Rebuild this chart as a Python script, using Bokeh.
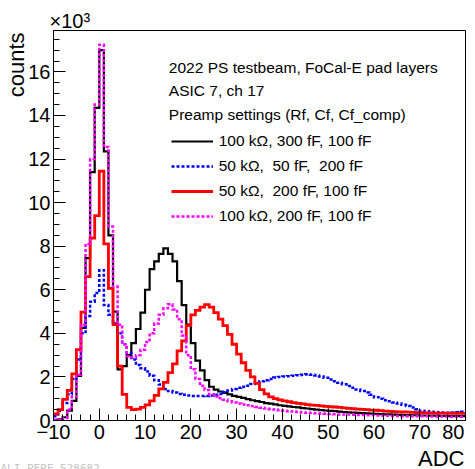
from bokeh.plotting import figure
from bokeh.models import (Range1d, SingleIntervalTicker, Legend, LegendItem, Label, Title,
                          CustomJSTickFormatter)
from bokeh.embed import file_html
from bokeh.resources import INLINE

# ---- data: counts per 1-ADC bin (in units of 10^3), bins [n, n+1) for n = -10..79
bin_low = list(range(-10, 80))

black_k = [0.03, 0.05, 0.15, 0.45, 0.9, 2.05, 4.25, 7.45, 11.4, 14.35,
           17.0, 12.35, 8.5, 5.0, 2.35, 2.5, 3.0, 3.55, 4.2, 4.95,
           6.0, 6.95, 7.3, 7.65, 7.9, 7.65, 7.3, 6.4, 5.3, 4.4,
           3.55, 2.75, 2.3, 1.85, 1.55, 1.42, 1.33, 1.27, 1.2, 1.13,
           1.08, 1.04, 0.98, 0.93, 0.89, 0.85, 0.8, 0.77, 0.74, 0.7,
           0.67, 0.65, 0.62, 0.6, 0.57, 0.55, 0.52, 0.5, 0.48, 0.46,
           0.44, 0.43, 0.41, 0.39, 0.37, 0.36, 0.35, 0.34, 0.33, 0.32,
           0.3, 0.29, 0.28, 0.28, 0.27, 0.26, 0.25, 0.25, 0.24, 0.24,
           0.23, 0.23, 0.22, 0.22, 0.21, 0.21, 0.2, 0.2, 0.2, 0.2]

blue_k = [0.2, 0.45, 0.8, 1.2, 1.9, 2.8, 4.0, 4.8, 5.45, 5.85,
          6.9, 5.3, 4.85, 4.45, 4.0, 3.5, 3.1, 2.8, 2.55, 2.4,
          2.25, 2.05, 1.85, 1.65, 1.45, 1.35, 1.28, 1.22, 1.18, 1.15,
          1.13, 1.12, 1.12, 1.13, 1.15, 1.18, 1.22, 1.3, 1.38, 1.45,
          1.5, 1.55, 1.6, 1.68, 1.75, 1.8, 1.85, 1.9, 1.97, 2.0,
          2.02, 2.03, 2.05, 2.08, 2.1, 2.12, 2.1, 2.07, 2.02, 1.96,
          1.88, 1.8, 1.73, 1.66, 1.58, 1.5, 1.42, 1.35, 1.28, 1.18,
          1.07, 1.0, 0.93, 0.88, 0.83, 0.78, 0.72, 0.67, 0.6, 0.52,
          0.45, 0.42, 0.4, 0.38, 0.37, 0.36, 0.36, 0.37, 0.38, 0.4]

red_k = [0.3, 0.5, 0.97, 1.38, 2.14, 3.25, 4.97, 6.6, 8.37, 9.4,
         11.45, 8.11, 6.06, 4.4, 2.5, 1.2, 0.6, 0.5, 0.52, 0.6,
         0.72, 0.9, 1.15, 1.45, 1.75, 2.2, 2.6, 3.2, 3.65, 4.35,
         4.85, 5.05, 5.2, 5.32, 5.2, 4.95, 4.65, 4.35, 3.95, 3.5,
         3.05, 2.65, 2.3, 2.0, 1.7, 1.42, 1.22, 1.08, 1.0, 0.95,
         0.9, 0.86, 0.82, 0.79, 0.76, 0.73, 0.71, 0.69, 0.67, 0.65,
         0.63, 0.62, 0.6, 0.58, 0.56, 0.54, 0.52, 0.51, 0.5, 0.48,
         0.47, 0.45, 0.43, 0.42, 0.41, 0.4, 0.39, 0.38, 0.37, 0.36,
         0.36, 0.35, 0.35, 0.34, 0.34, 0.34, 0.33, 0.33, 0.33, 0.33]

magenta_k = [0.02, 0.04, 0.12, 0.5, 1.1, 2.1, 4.4, 8.1, 12.0, 14.5,
             17.25, 12.55, 8.9, 6.15, 4.4, 3.5, 2.95, 2.9, 3.0, 3.25,
             3.6, 4.0, 4.45, 4.85, 5.15, 5.33, 5.1, 4.65, 3.9, 3.0,
             2.35, 1.9, 1.6, 1.4, 1.2, 1.1, 1.02, 0.95, 0.88, 0.83,
             0.78, 0.74, 0.7, 0.66, 0.62, 0.58, 0.55, 0.52, 0.5, 0.47,
             0.45, 0.43, 0.41, 0.39, 0.37, 0.35, 0.34, 0.33, 0.32, 0.31,
             0.3, 0.29, 0.28, 0.27, 0.27, 0.26, 0.25, 0.25, 0.24, 0.24,
             0.23, 0.23, 0.22, 0.22, 0.21, 0.21, 0.2, 0.2, 0.2, 0.19,
             0.19, 0.19, 0.18, 0.18, 0.18, 0.18, 0.17, 0.17, 0.17, 0.17]

series_labels = ["100 k\u03a9, 300 fF, 100 fF",
                 "50 k\u03a9,  50 fF,  200 fF",
                 "50 k\u03a9,  200 fF, 100 fF",
                 "100 k\u03a9, 200 fF, 100 fF"]
header_lines = ["2022 PS testbeam, FoCal-E pad layers",
                "ASIC 7, ch 17",
                "Preamp settings (Rf, Cf, Cf_comp)"]
figure_id = "ALI-PERF-528682"

FONT = "Liberation Sans"

edges = bin_low + [bin_low[-1] + 1]


def outline(vals):
    return vals + [vals[-1]]


p = figure(width=475, height=469, output_backend="svg", toolbar_location=None,
           x_range=Range1d(-10, 80), y_range=Range1d(0, 17.9),
           min_border_left=53, min_border_right=10, min_border_top=30,
           min_border_bottom=46)
p.background_fill_color = "white"
p.border_fill_color = "white"
p.outline_line_color = "black"
p.outline_line_width = 1
p.xgrid.visible = False
p.ygrid.visible = False

styles = [
    (black_k, "#000000", 2.2, "solid"),
    (blue_k, "#0000ff", 2.5, "3 2"),
    (red_k, "#ff0000", 2.8, "solid"),
    (magenta_k, "#ff00ff", 2.5, "3 2"),
]
renderers = []
for vals, col, lw, dash in styles:
    r = p.step(x=edges, y=outline(vals), mode="after", line_color=col,
               line_width=lw, line_dash=dash, line_join="miter")
    renderers.append(r)

# axes (tick labels only; titles are added as side-panel titles below)
xa = p.xaxis[0]
xa.ticker = SingleIntervalTicker(interval=10, num_minor_ticks=5)
xa.formatter = CustomJSTickFormatter(code="""
    if (tick < 0) { return '\\u2212' + Math.abs(tick); }
    if (tick == 80) { return '80\\u00a0\\u00a0'; }
    return '' + tick;
""")
ya = p.yaxis[0]
ya.ticker = SingleIntervalTicker(interval=2, num_minor_ticks=4)
for ax in (xa, ya):
    ax.major_tick_in = 12
    ax.major_tick_out = 0
    ax.minor_tick_in = 6
    ax.minor_tick_out = 0
    ax.axis_line_color = "black"
    ax.major_tick_line_color = "black"
    ax.minor_tick_line_color = "black"
    ax.major_label_text_font = FONT
    ax.major_label_text_color = "black"
    ax.major_label_text_font_size = "20px"
xa.major_label_standoff = 0
ya.major_label_standoff = 3


def side_title(text, align, offset, standoff, size="22px", font=FONT,
               color="black", valign="bottom"):
    t = Title(text=text, align=align, offset=offset, standoff=standoff,
              vertical_align=valign, text_font=font, text_font_size=size,
              text_font_style="normal", text_color=color)
    return t


# x-axis title, right-aligned at the end of the axis
p.add_layout(side_title("ADC", "right", 1, -3), "below")
# faint figure id at the bottom-left corner (takes no layout height)
p.add_layout(side_title(figure_id, "left", -53, -15, size="11px",
                        font="DejaVu Sans Mono", color="#c4c4c4", valign="top"),
             "below")
# y-axis title, aligned with the top end of the axis
p.add_layout(side_title("counts", "right", 2, -6), "left")

# multiplier of the y axis
p.title.text = "\u00d710\u00b3"
p.title.align = "left"
p.title.text_font = FONT
p.title.text_font_size = "20px"
p.title.text_font_style = "normal"
p.title.text_color = "black"
p.title.offset = -4
p.title.standoff = -3

# header lines
header_y = [16.21, 15.13, 14.04]
for txt, yy in zip(header_lines, header_y):
    p.add_layout(Label(x=15.2, y=yy, text=txt, text_align="left",
                       text_baseline="alphabetic", text_font=FONT,
                       text_font_size="15.5px", text_color="black"))

legend = Legend(items=[LegendItem(label=lab, renderers=[r])
                       for lab, r in zip(series_labels, renderers)],
                location=(117.7, 194.5), orientation="vertical")
legend.glyph_width = 42
legend.glyph_height = 20
legend.label_height = 20
legend.label_standoff = 6
legend.spacing = 5
legend.padding = 0
legend.margin = 0
legend.border_line_color = None
legend.background_fill_alpha = 0
legend.label_text_font = FONT
legend.label_text_font_size = "15.5px"
legend.label_text_color = "black"
p.add_layout(legend)

open("out.html", "w").write(file_html(p, INLINE))
